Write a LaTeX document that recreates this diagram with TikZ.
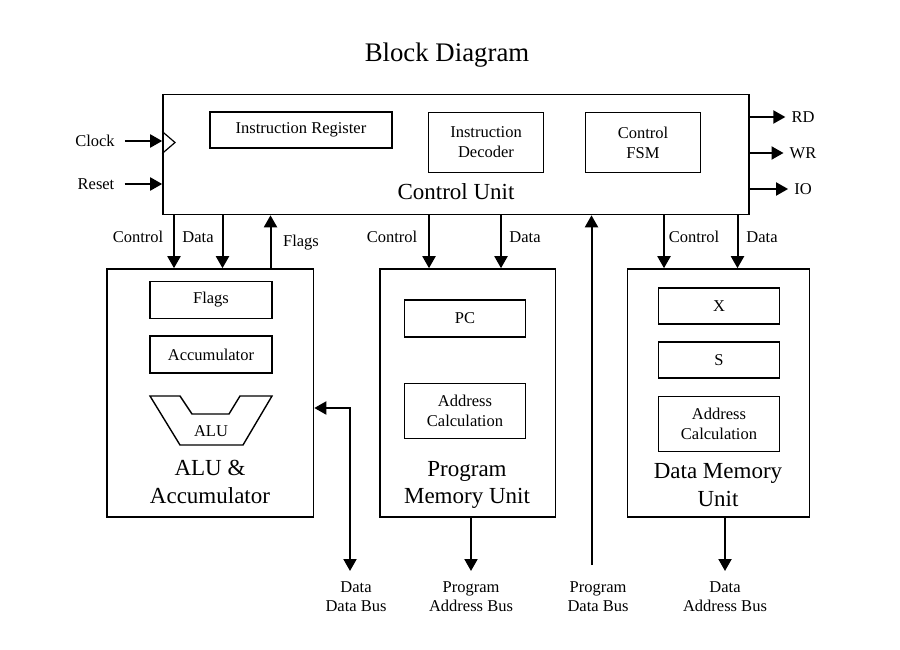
\documentclass[tikz,border=0pt]{standalone}
\usepackage{fontspec}
\setmainfont{Liberation Serif}
\usetikzlibrary{positioning, arrows.meta, calc}

\begin{document}
\begin{tikzpicture}[
    x=1pt, y=-1pt,
    unit/.style={rectangle, draw, line width=1.6pt, inner sep=0pt},
    reg/.style={rectangle, draw, line width=1.4pt, inner sep=0pt, align=center, font=\fontsize{16.5}{19.8}\selectfont},
    small/.style={inner sep=0pt, align=center, font=\fontsize{16.5}{19}\selectfont},
    big/.style={inner sep=0pt, align=center, font=\fontsize{23}{27.6}\selectfont},
    edge/.style={-{Triangle[length=12pt, width=13pt]}, line width=2pt},
    biedge/.style={{Triangle[length=12pt, width=13pt]}-{Triangle[length=12pt, width=13pt]}, line width=2pt}
]
\useasboundingbox (0,0) rectangle (900,650);

\node[font=\fontsize{26.8}{32}\selectfont, inner sep=0pt] (title) at (447,55) {Block Diagram};

% ================= CONTROL UNIT =================
\node[unit, minimum width=586pt, minimum height=120pt] (cu) at (456,154.5) {};
\node[reg, minimum width=182pt, minimum height=36pt] (ir) at (301,130) {Instruction Register};
\node[reg, minimum width=115pt, minimum height=60pt] (dec) at (486,142.5) {Instruction\\Decoder};
\node[reg, minimum width=115pt, minimum height=60pt] (fsm) at (643,142.5) {Control\\FSM};
\node[big] (culbl) at (456,192) {Control Unit};

% clock input mark
\draw[line width=1.2pt] (cu.west |- 0,131.5) -- (175,142.5) -- (cu.west |- 0,153.5);

\node[small] (clock) at (95,141) {Clock};
\node[small] (reset) at (96,184) {Reset};
\draw[edge] ([xshift=10pt]clock.east) -- (cu.west |- clock);
\draw[edge] ([xshift=10pt]reset.east) -- (cu.west |- reset);

\node[small] (rd) at (803,117) {RD};
\node[small] (wr) at (803,153) {WR};
\node[small] (io) at (803,189) {IO};
\draw[edge] (cu.east |- rd) -- ([xshift=-6pt]rd.west);
\draw[edge] (cu.east |- wr) -- ([xshift=-6pt]wr.west);
\draw[edge] (cu.east |- io) -- ([xshift=-6pt]io.west);

% ================= ALU & ACCUMULATOR =================
\node[unit, minimum width=206.5pt, minimum height=248pt] (alu) at (210.25,393) {};
\node[reg, minimum width=122pt, minimum height=37pt] (flags) at (211,300) {Flags};
\node[reg, minimum width=122pt, minimum height=37pt] (acc) at (211,354.5) {Accumulator};
\draw[line width=1.4pt] (150,396) -- (180,396) -- (192,414) -- (229,414) -- (240,396)
    -- (272,396) -- (243,445) -- (180,445) -- cycle;
\node[small] (alusym) at (211,431) {ALU};
\node[big] (alulbl) at (210,482) {ALU \&\\Accumulator};

\draw[edge] (cu.south -| 174,0) -- (alu.north -| 174,0);
\draw[edge] (cu.south -| 222.5,0) -- (alu.north -| 222.5,0);
\draw[edge] (alu.north -| 270.5,0) -- (cu.south -| 270.5,0);
\node[small] at (138,237) {Control};
\node[small] at (198,237) {Data};
\node[small] at (301,243) {Flags};

% data bus
\coordinate (ddbus) at (350,571);
\draw[biedge] (alu.east |- 0,408) -| (ddbus);
\node[small] (ddblbl) at (356,597) {Data\\Data Bus};

% ================= PROGRAM MEMORY UNIT =================
\node[unit, minimum width=175.5pt, minimum height=248pt] (pmu) at (467.75,393) {};
\node[reg, minimum width=121pt, minimum height=37pt] (pc) at (465,318.5) {PC};
\node[reg, minimum width=121pt, minimum height=55pt] (pcalc) at (465,411) {Address\\Calculation};
\node[big] (pmulbl) at (467,485) {Program\\Memory Unit};

\draw[edge] (cu.south -| 429,0) -- (pmu.north -| 429,0);
\draw[edge] (cu.south -| 501,0) -- (pmu.north -| 501,0);
\node[small] at (392,237) {Control};
\node[small] at (525,237) {Data};

\coordinate (pabus) at (471,571);
\draw[edge] (pmu.south -| pabus) -- (pabus);
\node[small] (pablbl) at (471,597) {Program\\Address Bus};

% program data bus
\coordinate (pdbus) at (591.5,565);
\draw[edge] (pdbus) -- (cu.south -| pdbus);
\node[small] (pdblbl) at (598,597) {Program\\Data Bus};

% ================= DATA MEMORY UNIT =================
\node[unit, minimum width=182pt, minimum height=248pt] (dmu) at (718.5,393) {};
\node[reg, minimum width=121pt, minimum height=36pt] (xreg) at (719,306) {X};
\node[reg, minimum width=121pt, minimum height=36pt] (sreg) at (719,360) {S};
\node[reg, minimum width=121pt, minimum height=55pt] (dcalc) at (719,424) {Address\\Calculation};
\node[big] (dmulbl) at (718,485) {Data Memory\\Unit};

\draw[edge] (cu.south -| 664,0) -- (dmu.north -| 664,0);
\draw[edge] (cu.south -| 737.5,0) -- (dmu.north -| 737.5,0);
\node[small] at (694,237) {Control};
\node[small] at (762,237) {Data};

\coordinate (dabus) at (725,571);
\draw[edge] (dmu.south -| dabus) -- (dabus);
\node[small] (dablbl) at (725,597) {Data\\Address Bus};

\end{tikzpicture}
\end{document}
